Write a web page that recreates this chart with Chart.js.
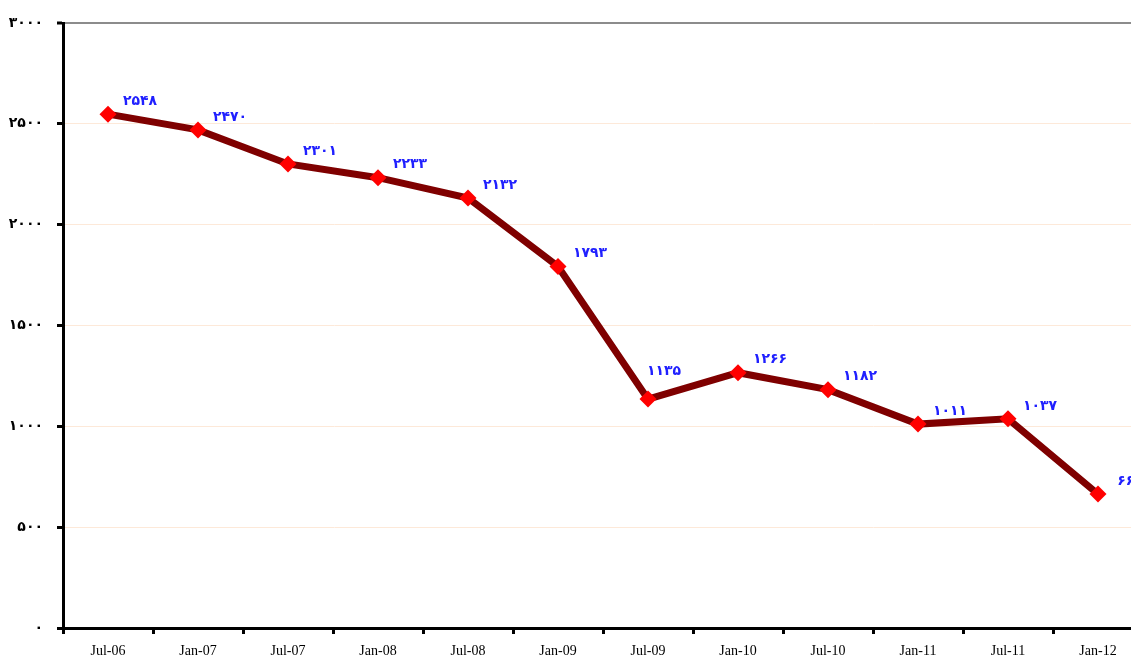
<!DOCTYPE html>
<html>
<head>
<meta charset="utf-8">
<script src="https://cdn.jsdelivr.net/npm/chart.js@4"></script>
<style>
  html, body { margin: 0; padding: 0; overflow: hidden; background: #fff; }
  #wrap { width: 1160px; height: 656px; }
</style>
</head>
<body>
<div id="wrap"><canvas id="chart"></canvas></div>
<script>
const categories = ["Jul-06", "Jan-07", "Jul-07", "Jan-08", "Jul-08", "Jan-09",
  "Jul-09", "Jan-10", "Jul-10", "Jan-11", "Jul-11", "Jan-12"];
const values = [2548, 2470, 2301, 2233, 2132, 1793, 1135, 1266, 1182, 1011, 1037, 664];
const yTicks = [0, 500, 1000, 1500, 2000, 2500, 3000];

const faDigits = "۰۱۲۳۴۵۶۷۸۹";
const toFa = (n) => String(n).replace(/\d/g, (d) => faDigits[d]);

// draws the value above-right of each point, moved up if the line runs through it
const valueLabels = {
  id: "valueLabels",
  afterDatasetsDraw(chart) {
    const ctx = chart.ctx;
    const pts = chart.getDatasetMeta(0).data;
    ctx.save();
    ctx.font = "bold 14px 'DejaVu Sans'";
    ctx.fillStyle = "#2020ff";
    ctx.textAlign = "center";
    ctx.textBaseline = "middle";
    pts.forEach((pt, i) => {
      let dx = 32, dy = -13;
      const next = pts[i + 1];
      if (next) {
        const lineY = pt.y + (next.y - pt.y) * (dx / (next.x - pt.x));
        if (lineY < pt.y + dy + 10) { dx = 16; dy = -28; }
      }
      ctx.fillText(toFa(values[i]), pt.x + dx, pt.y + dy);
    });
    ctx.restore();
  },
};

new Chart(document.getElementById("chart"), {
  type: "line",
  data: {
    labels: categories,
    datasets: [
      {
        data: values,
        borderColor: "#7f0000",
        borderWidth: 7,
        tension: 0,
        pointStyle: "rectRot",
        pointRadius: 8.5,
        pointBackgroundColor: "#ff0000",
        pointBorderColor: "#ff0000",
        pointBorderWidth: 0,
      },
    ],
  },
  options: {
    responsive: true,
    maintainAspectRatio: false,
    animation: false,
    layout: { padding: { top: 23, right: 17, left: 0, bottom: 0 } },
    plugins: { legend: { display: false }, tooltip: { enabled: false } },
    scales: {
      x: {
        offset: true,
        grid: {
          offset: true,
          drawOnChartArea: false,
          drawTicks: true,
          tickLength: 6,
          tickColor: "#000",
          tickWidth: 3,
        },
        border: { color: "#000", width: 3 },
        ticks: {
          color: "#000",
          font: { family: "'Liberation Serif'", size: 14 },
          padding: 9,
          maxRotation: 0,
          autoSkip: false,
        },
        afterFit(scale) { scale.height = 28; },
      },
      y: {
        min: 0,
        max: 3000,
        afterBuildTicks(scale) { scale.ticks = yTicks.map((v) => ({ value: v })); },
        grid: {
          color: (c) => (c.tick && c.tick.value === 3000 ? "#8c8c8c" : "#fde9d9"),
          lineWidth: (c) => (c.tick && c.tick.value === 3000 ? 2 : 1),
          tickColor: "#000",
          tickLength: 6,
          tickWidth: 3,
        },
        border: { color: "#000", width: 3 },
        ticks: {
          color: "#000",
          font: { family: "'DejaVu Sans'", size: 14, weight: "bold" },
          padding: 14,
          callback: (v) => toFa(v),
        },
        afterFit(scale) { scale.width = 63; },
      },
    },
  },
  plugins: [valueLabels],
});
</script>
</body>
</html>
